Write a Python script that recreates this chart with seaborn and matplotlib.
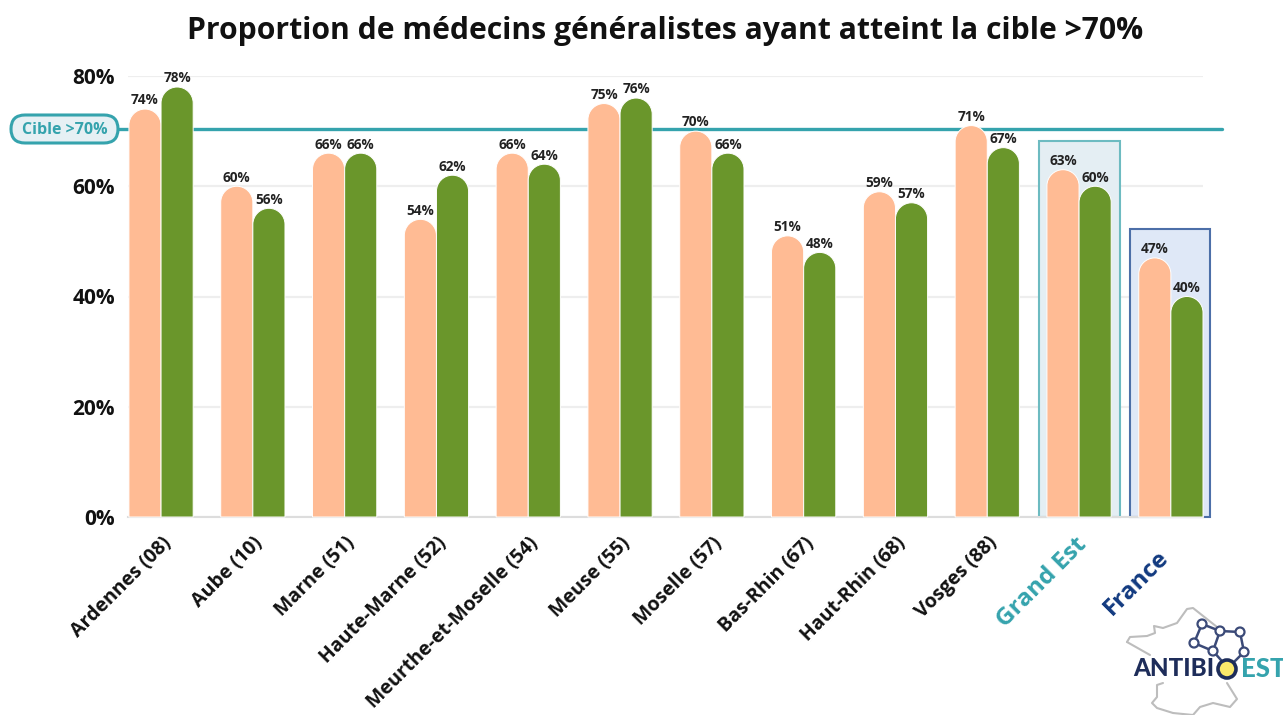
import pandas as pd
import matplotlib.pyplot as plt
import seaborn as sns
from matplotlib.patches import FancyBboxPatch, PathPatch, Rectangle, Circle
from matplotlib.path import Path
from matplotlib.transforms import ScaledTranslation

# values
departements = ["Ardennes (08)", "Aube (10)", "Marne (51)", "Haute-Marne (52)",
                "Meurthe-et-Moselle (54)", "Meuse (55)", "Moselle (57)", "Bas-Rhin (67)",
                "Haut-Rhin (68)", "Vosges (88)", "Grand Est", "France"]
serie_a = [74, 60, 66, 54, 66, 75, 70, 51, 59, 71, 63, 47]
serie_b = [78, 56, 66, 62, 64, 76, 66, 48, 57, 67, 60, 40]
y_ticks = [0, 20, 40, 60, 80]
cible = 70.3  # where the line sits in the picture

PEACH = "#FFBB94"
GREEN = "#6A962B"
TEAL = "#35A3AD"
NAVY = "#123A80"
DARK = "#1E2D5A"

sns.set_theme(style="white")
plt.rcParams["font.family"] = ["Open Sans", "DejaVu Sans"]

df = pd.DataFrame({
    "dep": departements * 2,
    "val": serie_a + serie_b,
    "serie": ["a"] * len(serie_a) + ["b"] * len(serie_b),
})

fig = plt.figure(figsize=(12.83, 7.15), dpi=100)
W, H = 1283, 715
ax = fig.add_axes([128 / W, 1 - 517 / H, (1203 - 128) / W, (517 - 76) / H])

sns.barplot(data=df, x="dep", y="val", hue="serie", palette=[PEACH, GREEN], saturation=1,
            width=0.7, legend=False, ax=ax, zorder=3)
ax.set_xlim(-0.36, 11.35)
ax.set_ylim(0, 80)

# rounded tops: swap each seaborn bar for the same bar with a round cap
x_px = ax.get_position().width * W / (ax.get_xlim()[1] - ax.get_xlim()[0])
y_px = ax.get_position().height * H / 80
k = 0.5523
for c in ax.containers:
    for bar in list(c):
        x0, w, h = bar.get_x(), bar.get_width(), bar.get_height()
        rx = w / 2
        ry = rx * x_px / y_px
        xm = x0 + rx
        verts = [(x0, 0), (x0, h - ry),
                 (x0, h - ry + k * ry), (xm - k * rx, h), (xm, h),
                 (xm + k * rx, h), (x0 + w, h - ry + k * ry), (x0 + w, h - ry),
                 (x0 + w, 0), (x0, 0)]
        codes = [Path.MOVETO, Path.LINETO, Path.CURVE4, Path.CURVE4, Path.CURVE4,
                 Path.CURVE4, Path.CURVE4, Path.CURVE4, Path.LINETO, Path.CLOSEPOLY]
        ax.add_patch(PathPatch(Path(verts, codes), facecolor=bar.get_facecolor(),
                               edgecolor="white", lw=0.7, zorder=3, clip_on=False))
        ax.text(xm, h + 0.3, f"{h:.0f}%", ha="center", va="bottom", fontsize=9.8,
                fontweight="bold", color="#222222", zorder=5)
        bar.set_visible(False)

# highlight boxes behind the last two groups
ax.add_patch(Rectangle((9.56, 0), 0.89, 68.2, facecolor="#E4EEF3", edgecolor="#6DBBC1",
                       lw=1.5, zorder=1, clip_on=False))
ax.add_patch(Rectangle((10.56, 0), 0.87, 52.2, facecolor="#DFE8F7", edgecolor="#4C6FA8",
                       lw=1.5, zorder=1, clip_on=False))

ax.set_yticks(y_ticks)
ax.set_yticklabels([f"{t}%" for t in y_ticks], fontsize=15, fontweight="bold", color="#111111")
ax.grid(axis="y", color="#EEEEEE", lw=1.6, zorder=0)
ax.set_axisbelow(True)
ax.axhline(cible, xmin=-0.01, xmax=1.018, color=TEAL, lw=2.4, zorder=2, clip_on=False)
sns.despine(ax=ax, left=True, top=True, right=True)
ax.spines["bottom"].set_color("#DDDDDD")
ax.spines["bottom"].set_linewidth(1.5)
ax.set_xlabel("")
ax.set_ylabel("")
ax.tick_params(axis="y", length=0, pad=9.5)
ax.tick_params(axis="x", length=0, pad=11.5)
ax.set_xticks(range(len(departements)))
ax.set_xticklabels(departements, rotation=45, ha="right", rotation_mode="anchor",
                   fontsize=14, fontweight="bold", color="#111111")
labels = ax.get_xticklabels()
labels[-2].set_color(TEAL)
labels[-2].set_fontsize(17.5)
labels[-2].set_transform(labels[-2].get_transform() + ScaledTranslation(-3 / 72, 0, fig.dpi_scale_trans))
labels[-1].set_color(NAVY)
labels[-1].set_fontsize(17.5)
labels[-1].set_transform(labels[-1].get_transform() + ScaledTranslation(-14 / 100, -13 / 100, fig.dpi_scale_trans))

fig.text(665 / W, 1 - 31 / H, "Proportion de médecins généralistes ayant atteint la cible >70%",
         ha="center", va="center", fontsize=21.7, fontweight="bold", color="#111111")

# overlay in pixel coordinates for the target pill and the logo
ov = fig.add_axes([0, 0, 1, 1], zorder=10)
ov.set_xlim(0, W)
ov.set_ylim(H, 0)
ov.axis("off")
ov.patch.set_alpha(0)

ov.add_patch(FancyBboxPatch((11, 115), 107, 28, boxstyle="round,pad=0,rounding_size=14",
                            facecolor="#E6F0F4", edgecolor=TEAL, lw=2.2))
ov.text(64.5, 129.5, "Cible >70%", ha="center", va="center", fontsize=11.5,
        fontweight="bold", color=TEAL)

# logo
outline_top = [(1127, 642), (1130, 637), (1147, 636), (1155, 633), (1154, 626), (1163, 628),
               (1177, 623), (1187, 609), (1193, 608), (1217, 627)]
outline_bottom = [(1163, 683), (1157, 685), (1157, 697), (1152, 703), (1157, 708), (1173, 713),
                  (1193, 715), (1200, 707), (1213, 703), (1230, 707), (1237, 699), (1227, 683)]
ov.plot(*zip(*outline_top), color="#BDBDBD", lw=1.5)
ov.plot(*zip(*outline_bottom), color="#BDBDBD", lw=1.5)
ov.plot([1127, 1150], [642, 655], color="#BDBDBD", lw=1.5)
nodes = {"a": (1202, 624), "b": (1220, 631), "c": (1240, 632), "d": (1194, 643),
         "e": (1213, 651), "f": (1244, 652)}
edges = ["ab", "bc", "ad", "de", "be", "cf"]
for e in edges:
    p, q = nodes[e[0]], nodes[e[1]]
    ov.plot([p[0], q[0]], [p[1], q[1]], color="#3B4A78", lw=1.8, zorder=11)
ov.plot([1213, 1228], [651, 668], color="#3B4A78", lw=1.8, zorder=11)
ov.plot([1244, 1228], [652, 668], color="#3B4A78", lw=1.8, zorder=11)
for p in nodes.values():
    ov.add_patch(Circle(p, 4.5, facecolor="white", edgecolor="#3B4A78", lw=1.6, zorder=12))
ov.text(1133, 669, "ANTIBI", ha="left", va="center", fontsize=17.4, fontweight="black",
        family="Lato", color=DARK, zorder=12)
ov.add_patch(Circle((1227, 669), 9, facecolor="#FBE96B", edgecolor=DARK, lw=2.6, zorder=12))
ov.text(1241, 669, "EST", ha="left", va="center", fontsize=18.5, fontweight="black",
        family="Lato", color=TEAL, zorder=12)

fig.savefig("out.png", dpi=100)
